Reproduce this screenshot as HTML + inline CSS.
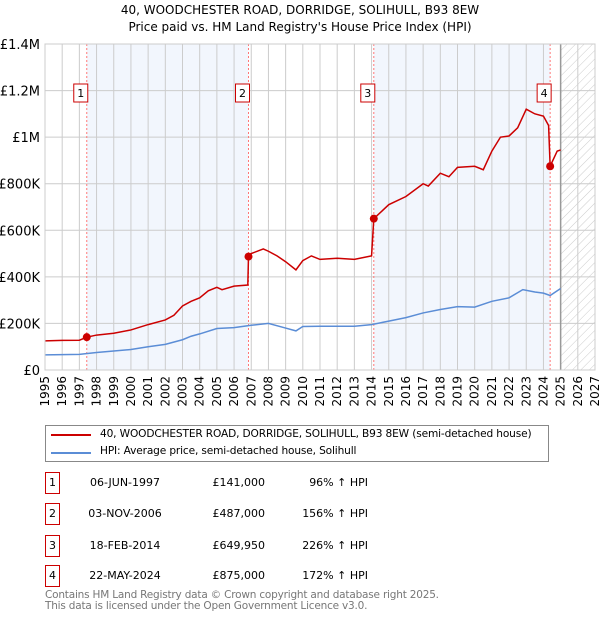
<!DOCTYPE html>
<html><head><meta charset="utf-8"><style>
body{margin:0;background:#fff;font-family:"DejaVu Sans","Liberation Sans",sans-serif;}
#wrap{position:relative;width:600px;height:620px;overflow:hidden}
.t{position:absolute;font-size:11px;color:#000;white-space:nowrap}
.badge{position:absolute;left:45px;width:13px;height:20px;border:1px solid #c00;font-size:11px;text-align:center;line-height:20px;background:#fff}
</style></head><body><div id="wrap">
<div class="t" style="left:0;width:600px;text-align:center;top:2px;font-size:12px;line-height:17px">40, WOODCHESTER ROAD, DORRIDGE, SOLIHULL, B93 8EW<br>Price paid vs. HM Land Registry's House Price Index (HPI)</div>
<svg id="chart" width="600" height="420" style="position:absolute;left:0;top:0"></svg>
<div style="position:absolute;left:45px;top:425px;width:502px;height:35px;border:1px solid #888"></div>
<div style="position:absolute;left:51px;top:434px;width:40px;height:2px;background:#c00"></div>
<div class="t" style="left:100px;top:428px;font-size:10.6px;letter-spacing:-0.15px">40, WOODCHESTER ROAD, DORRIDGE, SOLIHULL, B93 8EW (semi-detached house)</div>
<div style="position:absolute;left:51px;top:452px;width:40px;height:2px;background:#5b8dd6"></div>
<div class="t" style="left:100px;top:445px;font-size:10.6px;letter-spacing:-0.15px">HPI: Average price, semi-detached house, Solihull</div>
<div id="table"></div>
<div class="t" style="left:45px;top:590px;color:#777;line-height:11px;font-size:10.5px;letter-spacing:-0.2px">Contains HM Land Registry data © Crown copyright and database right 2025.<br>This data is licensed under the Open Government Licence v3.0.</div>
</div>
<script>
const saleNums=["1","2","3","4"];
const saleYears=[1997.43,2006.84,2014.13,2024.39];
const salePrices=[141000,487000,649950,875000];
const saleDates=["06-JUN-1997","03-NOV-2006","18-FEB-2014","22-MAY-2024"];
const saleLabels=["£141,000","£487,000","£649,950","£875,000"];
const salePct=["96% ↑ HPI","156% ↑ HPI","226% ↑ HPI","172% ↑ HPI"];
const priceYears=[1995,1996,1997,1997.43,1998,1999,2000,2001,2002,2002.5,2003,2003.5,2004,2004.5,2005,2005.3,2006,2006.8,2006.84,2007,2007.7,2008,2008.5,2009,2009.6,2010,2010.5,2011,2012,2013,2014,2014.13,2015,2016,2017,2017.3,2018,2018.5,2019,2020,2020.5,2021,2021.5,2022,2022.5,2023,2023.5,2024,2024.3,2024.39,2024.8,2025];
const priceVals=[125000,127000,128000,141000,150000,158000,172000,195000,215000,235000,275000,295000,310000,340000,355000,345000,360000,365000,487000,500000,520000,510000,490000,465000,430000,470000,490000,475000,480000,475000,490000,650000,710000,745000,800000,790000,845000,830000,870000,875000,860000,940000,1000000,1005000,1040000,1120000,1100000,1090000,1050000,875000,940000,945000];
const hpiYears=[1995,1997,1998,2000,2001,2002,2003,2003.5,2004,2005,2006,2007,2008,2009,2009.6,2010,2011,2012,2013,2014,2015,2016,2017,2018,2019,2020,2021,2022,2022.8,2023.5,2024,2024.39,2025];
const hpiVals=[65000,67000,75000,88000,100000,110000,130000,145000,155000,178000,182000,192000,200000,180000,168000,187000,188000,188000,188000,195000,210000,225000,245000,260000,272000,270000,295000,310000,345000,335000,330000,320000,350000];
const yTicks=[0,200000,400000,600000,800000,1000000,1200000,1400000];
const yTickLabels=["£0","£200K","£400K","£600K","£800K","£1M","£1.2M","£1.4M"];
const xTicks=[1995,1996,1997,1998,1999,2000,2001,2002,2003,2004,2005,2006,2007,2008,2009,2010,2011,2012,2013,2014,2015,2016,2017,2018,2019,2020,2021,2022,2023,2024,2025,2026,2027];

const L=45,R=595,T=44,B=370,X0=1995,X1=2027,YMAX=1400000;
const xs=v=>L+(v-X0)/(X1-X0)*(R-L);
const ys=v=>B-v/YMAX*(B-T);
const NS="http://www.w3.org/2000/svg";
const FONT='DejaVu Sans, Liberation Sans, sans-serif';
const svg=document.getElementById('chart');
function mk(tag,attrs,parent){const e=document.createElementNS(NS,tag);for(const k in attrs)e.setAttribute(k,attrs[k]);(parent||svg).appendChild(e);return e;}
let e;
e=mk('defs',{});
e.innerHTML='<pattern id="hatch" width="6" height="6" patternUnits="userSpaceOnUse" patternTransform="rotate(45)"><line x1="0" y1="0" x2="0" y2="6" stroke="#ccc" stroke-width="1"/></pattern>';
e=mk('rect',{x:L,y:T,width:R-L,height:B-T,fill:'#fff'});


for(const [a,b] of [[0,1],[2,3]]){
 e=mk('rect',{x:xs(saleYears[a]),y:T,width:xs(saleYears[b])-xs(saleYears[a]),height:B-T,fill:'#eef3fc',opacity:0.75});
 
 
}
e=mk('rect',{x:xs(2025),y:T,width:R-xs(2025),height:B-T,fill:'url(#hatch)'});


xTicks.forEach(v=>{
 e=mk('line',{x1:xs(v),x2:xs(v),y1:T,y2:B,stroke:'#ccc','stroke-width':1});
 
 
 e=mk('text',{x:0,y:0,transform:`translate(${xs(v)+4},${B+6}) rotate(-90)`,'text-anchor':'end','font-size':12,'font-family':FONT});
 e.textContent=v;
 
 
});
yTicks.forEach((v,i)=>{
 e=mk('line',{x1:L,x2:R,y1:ys(v),y2:ys(v),stroke:'#ccc','stroke-width':1});
 
 
 e=mk('text',{x:L-5,y:ys(v)+5,'text-anchor':'end','font-size':13,'font-family':FONT});
 e.textContent=yTickLabels[i];
 
 
});
e=mk('line',{x1:xs(2025),x2:xs(2025),y1:T,y2:B,stroke:'#999','stroke-width':1.5});


saleYears.forEach((v,i)=>{
 e=mk('line',{x1:xs(v),x2:xs(v),y1:T,y2:B,stroke:'#f77','stroke-width':1,'stroke-dasharray':'2,2'});
 
 
});
e=mk('polyline',{points:hpiYears.map((y,i)=>xs(y)+','+ys(hpiVals[i])).join(' '),fill:'none',stroke:'#5b8dd6','stroke-width':1.5});


e=mk('polyline',{points:priceYears.map((y,i)=>xs(y)+','+ys(priceVals[i])).join(' '),fill:'none',stroke:'#c00','stroke-width':1.5});


saleYears.forEach((v,i)=>{
 e=mk('circle',{cx:xs(v),cy:ys(salePrices[i]),r:4,fill:'#c00'});
 
 
 e=mk('rect',{x:xs(v)-13,y:84,width:14,height:18,fill:'#fff',stroke:'#c00'});
 
 
 e=mk('text',{x:xs(v)-6,y:97,'text-anchor':'middle','font-size':11,'font-family':FONT});
 e.textContent=saleNums[i];
 
 
});
e=mk('rect',{x:L,y:T,width:R-L,height:B-T,fill:'none',stroke:'#ccc'});



const tb=document.getElementById('table');
const rowY=[472,503,535,565];
saleNums.forEach((n,i)=>{
 const y=rowY[i];
 let d=document.createElement('div');d.className='badge';d.style.top=y+'px';d.textContent=n;
 
 
 tb.appendChild(d);
 d=document.createElement('div');d.className='t';d.style.cssText=`left:85px;width:80px;text-align:center;top:${y+4}px`;d.textContent=saleDates[i];
 
 
 tb.appendChild(d);
 d=document.createElement('div');d.className='t';d.style.cssText=`left:195px;width:70px;text-align:right;top:${y+4}px`;d.textContent=saleLabels[i];
 
 
 tb.appendChild(d);
 d=document.createElement('div');d.className='t';d.style.cssText=`left:280px;width:88px;text-align:right;top:${y+4}px`;d.textContent=salePct[i];
 
 
 tb.appendChild(d);
});
</script></body></html>
